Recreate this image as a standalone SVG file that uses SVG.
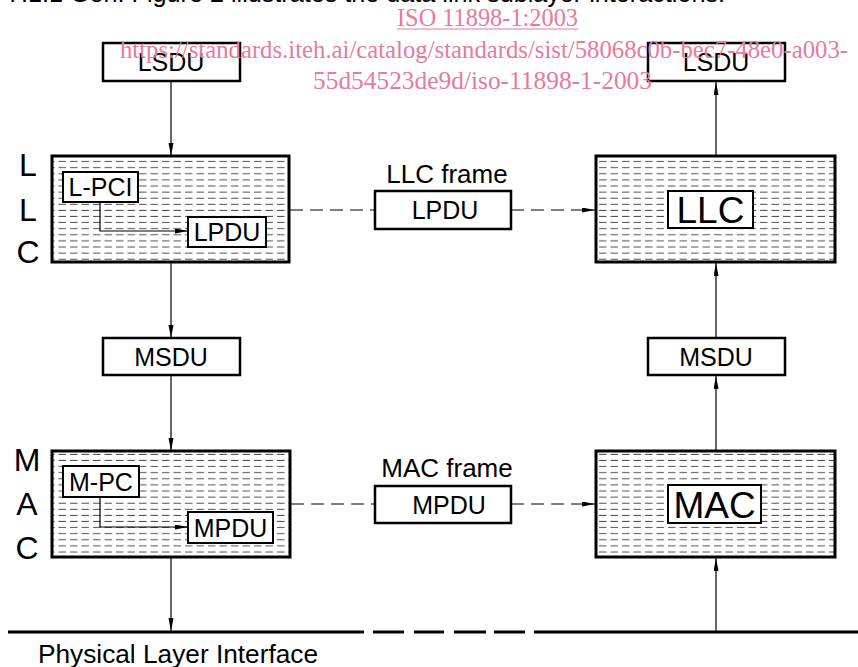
<svg xmlns="http://www.w3.org/2000/svg" width="858" height="667" viewBox="0 0 858 667">
<style>
text{font-family:"Liberation Sans",Arial,sans-serif;fill:#000}
.lbl{font-size:25px;text-anchor:middle}
.big{font-size:37px;text-anchor:middle}
.side{font-size:32px;text-anchor:middle}
.box{fill:#fff;stroke:#000;stroke-width:2.5}
.sub{fill:#fff;stroke:#000;stroke-width:2}
.layer{fill:url(#hatch);stroke:#000;stroke-width:3}
.conn{fill:none;stroke:#000;stroke-width:1.2}
.dash{fill:none;stroke:#000;stroke-width:1.2;stroke-dasharray:13 7}
.wm{font-family:"Liberation Serif","Times New Roman",serif;fill:#e9799d;font-size:26px;text-anchor:start}
</style>
<defs>
<pattern id="hatchTile" patternUnits="userSpaceOnUse" x="0" y="0" width="11.5" height="6.1">
<line x1="1" y1="3" x2="8.5" y2="3" stroke="#4a4a4a" stroke-width="1"/>
</pattern>
<pattern id="hatch" patternUnits="userSpaceOnUse" x="0" y="0" width="858" height="667">
<rect width="858" height="667" fill="#fff"/>
<rect width="858" height="667" fill="url(#hatchTile)"/>
</pattern>
<marker id="arr" markerUnits="userSpaceOnUse" markerWidth="14" markerHeight="6" refX="13" refY="2.5" orient="auto">
<path d="M0,0 L13,2.5 L0,5 z" fill="#000"/>
</marker>
</defs>
<rect width="858" height="667" fill="#fff"/>

<text x="7" y="2" style="font-size:26px" textLength="718" lengthAdjust="spacingAndGlyphs">7.1.1 Gen. Figure 2 illustrates the data link sublayer interactions.</text>

<g id="lsdu-left"><rect class="box" x="103" y="43" width="137" height="38"/><text class="lbl" x="171" y="71">LSDU</text></g>
<g id="lsdu-right"><rect class="box" x="648" y="43" width="137" height="38"/><text class="lbl" x="716" y="71">LSDU</text></g>

<g id="llc-side"><text class="side" x="28" y="176">L</text><text class="side" x="28" y="221">L</text><text class="side" x="28" y="263">C</text></g>
<g id="mac-side"><text class="side" x="27" y="471">M</text><text class="side" x="27" y="515">A</text><text class="side" x="27" y="559">C</text></g>

<g id="llc-left"><rect class="layer" x="52" y="156" width="237" height="106"/></g>
<g id="llc-right"><rect class="layer" x="596" y="156" width="239" height="106"/></g>
<g id="mac-left"><rect class="layer" x="52" y="451" width="238" height="106"/></g>
<g id="mac-right"><rect class="layer" x="596" y="451" width="239" height="106"/></g>

<g id="connectors">
<line class="conn" x1="171" y1="82" x2="171" y2="156" marker-end="url(#arr)"/>
<line class="conn" x1="171" y1="263" x2="171" y2="338" marker-end="url(#arr)"/>
<line class="conn" x1="171" y1="375" x2="171" y2="451" marker-end="url(#arr)"/>
<line class="conn" x1="171" y1="558" x2="171" y2="631" marker-end="url(#arr)"/>
<line class="conn" x1="716" y1="155" x2="716" y2="82" marker-end="url(#arr)"/>
<line class="conn" x1="716" y1="338" x2="716" y2="263" marker-end="url(#arr)"/>
<line class="conn" x1="716" y1="450" x2="716" y2="376" marker-end="url(#arr)"/>
<line class="conn" x1="716" y1="632" x2="716" y2="558" marker-end="url(#arr)"/>
<path class="conn" d="M100,202 V231 H188" marker-end="url(#arr)"/>
<path class="conn" d="M100,497 V527 H188" marker-end="url(#arr)"/>
<line class="dash" x1="290" y1="210" x2="375" y2="210"/>
<line class="dash" x1="511" y1="210" x2="595" y2="210" marker-end="url(#arr)"/>
<line class="dash" x1="291" y1="504" x2="375" y2="504"/>
<line class="dash" x1="511" y1="504" x2="595" y2="504" marker-end="url(#arr)"/>
</g>

<g id="phys-line" stroke="#000" stroke-width="3">
<line x1="8" y1="632" x2="364" y2="632"/>
<line x1="373" y1="632" x2="404" y2="632"/>
<line x1="414" y1="632" x2="444" y2="632"/>
<line x1="454" y1="632" x2="486" y2="632"/>
<line x1="494" y1="632" x2="525" y2="632"/>
<line x1="534" y1="632" x2="858" y2="632"/>
</g>
<text x="38" y="663" style="font-size:25px" textLength="280" lengthAdjust="spacingAndGlyphs">Physical Layer Interface</text>

<g id="l-pci"><rect class="sub" x="63" y="172" width="75" height="30"/><text class="lbl" x="100.5" y="196">L-PCI</text></g>
<g id="lpdu-inner"><rect class="sub" x="188" y="217" width="78" height="30"/><text class="lbl" x="227" y="241">LPDU</text></g>
<g id="llc-label"><rect class="sub" x="668" y="191" width="85" height="37"/><text class="big" x="710.5" y="223">LLC</text></g>

<g id="llc-frame"><text class="lbl" x="447" y="183" style="font-size:26px">LLC frame</text><rect class="box" x="375" y="191" width="136" height="38"/><text class="lbl" x="445" y="219">LPDU</text></g>

<g id="msdu-left"><rect class="box" x="103" y="338" width="137" height="37"/><text class="lbl" x="171" y="365.5">MSDU</text></g>
<g id="msdu-right"><rect class="box" x="648" y="338" width="137" height="37"/><text class="lbl" x="716" y="365.5">MSDU</text></g>

<g id="m-pc"><rect class="sub" x="63" y="466" width="76" height="31"/><text class="lbl" x="101" y="490.5">M-PC</text></g>
<g id="mpdu-inner"><rect class="sub" x="188" y="512" width="85" height="31"/><text class="lbl" x="230.5" y="536.5">MPDU</text></g>
<g id="mac-label"><rect class="sub" x="668" y="485" width="93" height="38"/><text class="big" x="714.5" y="517.5">MAC</text></g>

<g id="mac-frame"><text class="lbl" x="447" y="477" style="font-size:26px">MAC frame</text><rect class="box" x="375" y="486" width="136" height="37"/><text class="lbl" x="449" y="513.5">MPDU</text></g>

<g id="watermark">
<text class="wm" x="397" y="26" textLength="181" lengthAdjust="spacingAndGlyphs">ISO 11898-1:2003</text>
<line x1="397" y1="29" x2="578" y2="29" stroke="#e9799d" stroke-width="1.2"/>
<text class="wm" x="120" y="58" textLength="728" lengthAdjust="spacingAndGlyphs">https://standards.iteh.ai/catalog/standards/sist/58068c0b-bec7-48e0-a003-</text>
<text class="wm" x="313" y="89" textLength="339" lengthAdjust="spacingAndGlyphs">55d54523de9d/iso-11898-1-2003</text>
</g>
</svg>
